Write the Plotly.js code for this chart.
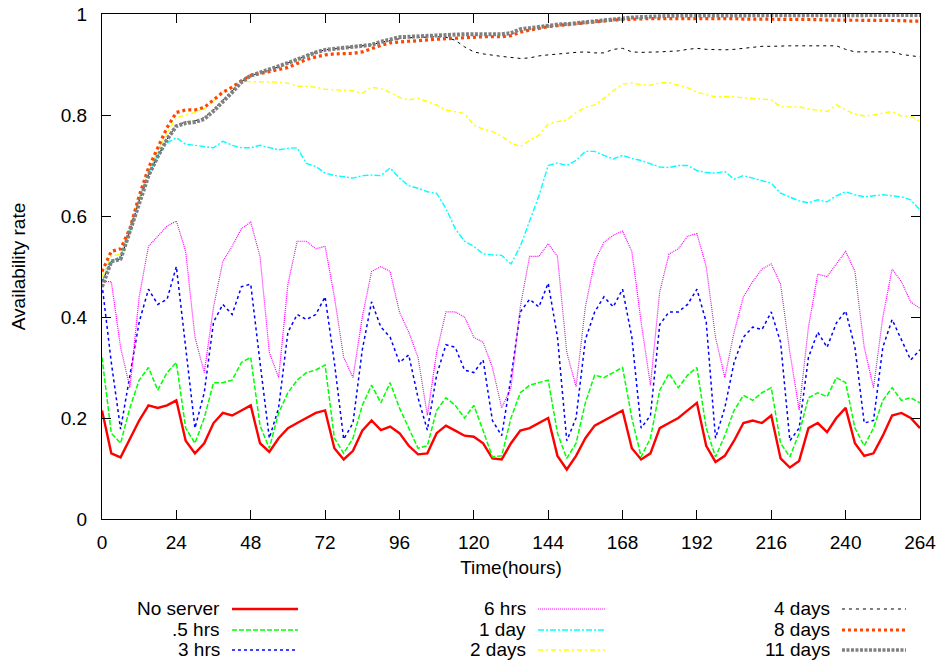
<!DOCTYPE html>
<html>
<head>
<meta charset="utf-8">
<script src="https://cdn.plot.ly/plotly-3.0.1.min.js"></script>
<style>
  html, body { margin: 0; padding: 0; background: #ffffff; }
  #chart { width: 941px; height: 660px; }
</style>
</head>
<body>
<div id="chart"></div>
<script>
// Sampling instants (hours), every 3 h over the 11-day run
const hours = [
  0, 3, 6, 9, 12, 15, 18, 21,
  24, 27, 30, 33, 36, 39, 42, 45,
  48, 51, 54, 57, 60, 63, 66, 69,
  72, 75, 78, 81, 84, 87, 90, 93,
  96, 99, 102, 105, 108, 111, 114, 117,
  120, 123, 126, 129, 132, 135, 138, 141,
  144, 147, 150, 153, 156, 159, 162, 165,
  168, 171, 174, 177, 180, 183, 186, 189,
  192, 195, 198, 201, 204, 207, 210, 213,
  216, 219, 222, 225, 228, 231, 234, 237,
  240, 243, 246, 249, 252, 255, 258, 261,
  264
];

const noServer = [
  0.215,0.130,0.122,0.160,0.195,0.225,0.220,0.225,
  0.235,0.155,0.130,0.150,0.190,0.210,0.205,0.215,
  0.225,0.150,0.133,0.160,0.180,0.190,0.200,0.210,
  0.215,0.140,0.118,0.135,0.175,0.195,0.176,0.183,
  0.170,0.145,0.128,0.130,0.170,0.185,0.175,0.165,
  0.163,0.150,0.120,0.118,0.150,0.175,0.180,0.190,
  0.200,0.125,0.098,0.125,0.160,0.185,0.195,0.205,
  0.215,0.140,0.118,0.130,0.180,0.190,0.200,0.215,
  0.230,0.145,0.113,0.125,0.155,0.190,0.195,0.190,
  0.205,0.120,0.102,0.115,0.180,0.190,0.172,0.200,
  0.220,0.150,0.125,0.130,0.165,0.205,0.210,0.200,
  0.180
];

const halfHour = [
  0.320,0.170,0.150,0.220,0.275,0.300,0.255,0.290,
  0.310,0.180,0.150,0.200,0.270,0.270,0.275,0.310,
  0.320,0.185,0.140,0.210,0.250,0.275,0.290,0.295,
  0.305,0.160,0.130,0.160,0.225,0.265,0.230,0.270,
  0.220,0.180,0.140,0.145,0.215,0.240,0.225,0.200,
  0.225,0.175,0.123,0.125,0.200,0.250,0.265,0.270,
  0.275,0.170,0.120,0.150,0.230,0.285,0.280,0.290,
  0.300,0.200,0.123,0.160,0.255,0.288,0.260,0.285,
  0.300,0.180,0.123,0.165,0.215,0.245,0.235,0.250,
  0.260,0.150,0.123,0.170,0.240,0.250,0.242,0.280,
  0.270,0.180,0.145,0.180,0.235,0.260,0.235,0.240,
  0.230
];

const threeHrs = [
  0.465,0.310,0.178,0.280,0.390,0.455,0.425,0.435,
  0.500,0.340,0.180,0.250,0.390,0.425,0.405,0.460,
  0.465,0.310,0.160,0.220,0.370,0.405,0.395,0.405,
  0.440,0.310,0.158,0.190,0.335,0.430,0.380,0.360,
  0.310,0.325,0.240,0.176,0.285,0.345,0.340,0.295,
  0.290,0.315,0.195,0.165,0.280,0.410,0.435,0.420,
  0.467,0.360,0.155,0.200,0.355,0.410,0.440,0.420,
  0.455,0.360,0.180,0.205,0.385,0.410,0.410,0.425,
  0.455,0.390,0.160,0.220,0.310,0.360,0.380,0.375,
  0.410,0.350,0.155,0.180,0.320,0.370,0.340,0.388,
  0.412,0.340,0.190,0.195,0.340,0.395,0.355,0.315,
  0.335
];

const sixHrs = [
  0.470,0.470,0.340,0.260,0.440,0.540,0.560,0.580,
  0.590,0.530,0.360,0.290,0.420,0.510,0.540,0.575,
  0.588,0.520,0.330,0.280,0.465,0.550,0.550,0.535,
  0.540,0.440,0.320,0.280,0.400,0.490,0.500,0.490,
  0.410,0.370,0.320,0.205,0.330,0.410,0.410,0.400,
  0.360,0.350,0.300,0.220,0.260,0.420,0.520,0.520,
  0.545,0.520,0.330,0.262,0.420,0.510,0.548,0.562,
  0.570,0.530,0.390,0.265,0.450,0.525,0.535,0.560,
  0.565,0.500,0.360,0.280,0.370,0.440,0.470,0.495,
  0.505,0.465,0.330,0.216,0.380,0.485,0.480,0.506,
  0.530,0.490,0.340,0.260,0.400,0.495,0.470,0.430,
  0.417
];

const oneDay = [
  0.470,0.510,0.520,0.570,0.635,0.685,0.720,0.745,
  0.755,0.742,0.740,0.738,0.735,0.748,0.740,0.735,
  0.735,0.740,0.736,0.731,0.734,0.735,0.704,0.698,
  0.685,0.680,0.678,0.675,0.680,0.681,0.680,0.695,
  0.675,0.660,0.655,0.648,0.645,0.615,0.575,0.550,
  0.540,0.525,0.523,0.522,0.505,0.540,0.590,0.640,
  0.700,0.705,0.700,0.710,0.728,0.728,0.720,0.713,
  0.720,0.714,0.710,0.704,0.697,0.696,0.700,0.700,
  0.690,0.686,0.685,0.688,0.673,0.680,0.675,0.671,
  0.665,0.645,0.638,0.630,0.626,0.632,0.628,0.640,
  0.648,0.642,0.638,0.640,0.642,0.640,0.638,0.632,
  0.612
];

const twoDays = [
  0.480,0.520,0.525,0.570,0.635,0.690,0.730,0.765,
  0.795,0.800,0.805,0.812,0.828,0.845,0.857,0.866,
  0.866,0.866,0.866,0.865,0.863,0.857,0.857,0.855,
  0.851,0.850,0.850,0.848,0.843,0.855,0.852,0.845,
  0.835,0.830,0.833,0.827,0.820,0.810,0.806,0.803,
  0.780,0.772,0.767,0.758,0.745,0.737,0.750,0.760,
  0.782,0.787,0.790,0.805,0.815,0.820,0.833,0.848,
  0.861,0.863,0.860,0.859,0.864,0.864,0.859,0.854,
  0.845,0.840,0.836,0.836,0.836,0.834,0.833,0.832,
  0.830,0.816,0.816,0.816,0.812,0.809,0.807,0.820,
  0.810,0.802,0.798,0.800,0.804,0.807,0.798,0.798,
  0.787
];

const fourDays = [
  0.470,0.510,0.515,0.570,0.630,0.680,0.718,0.752,
  0.780,0.786,0.788,0.795,0.810,0.828,0.847,0.866,
  0.878,0.884,0.890,0.895,0.903,0.910,0.918,0.924,
  0.929,0.931,0.933,0.935,0.937,0.939,0.944,0.948,
  0.951,0.953,0.954,0.955,0.955,0.954,0.948,0.935,
  0.925,0.921,0.918,0.916,0.914,0.912,0.913,0.917,
  0.919,0.921,0.922,0.924,0.925,0.923,0.923,0.930,
  0.932,0.925,0.924,0.924,0.925,0.926,0.927,0.930,
  0.932,0.930,0.929,0.929,0.930,0.932,0.934,0.936,
  0.936,0.937,0.937,0.937,0.937,0.937,0.937,0.937,
  0.930,0.925,0.925,0.925,0.925,0.925,0.920,0.918,
  0.915
];

const eightDays = [
  0.490,0.530,0.535,0.575,0.640,0.695,0.735,0.775,
  0.805,0.810,0.810,0.815,0.830,0.845,0.855,0.868,
  0.878,0.882,0.886,0.890,0.894,0.902,0.910,0.915,
  0.919,0.921,0.922,0.922,0.925,0.932,0.938,0.943,
  0.945,0.946,0.947,0.949,0.950,0.951,0.952,0.954,
  0.954,0.955,0.955,0.955,0.957,0.964,0.968,0.972,
  0.975,0.977,0.979,0.981,0.983,0.985,0.986,0.988,
  0.989,0.990,0.991,0.991,0.991,0.991,0.992,0.992,
  0.992,0.992,0.991,0.991,0.991,0.990,0.990,0.990,
  0.990,0.990,0.989,0.989,0.989,0.989,0.988,0.988,
  0.988,0.988,0.988,0.987,0.987,0.987,0.987,0.986,
  0.986
];

const elevenDays = [
  0.460,0.510,0.515,0.570,0.630,0.680,0.718,0.752,
  0.778,0.784,0.786,0.792,0.808,0.826,0.845,0.865,
  0.878,0.884,0.890,0.895,0.903,0.910,0.918,0.924,
  0.929,0.931,0.933,0.935,0.937,0.939,0.945,0.950,
  0.954,0.955,0.956,0.957,0.958,0.959,0.960,0.960,
  0.960,0.960,0.960,0.960,0.962,0.970,0.972,0.975,
  0.978,0.979,0.980,0.982,0.983,0.985,0.987,0.989,
  0.991,0.993,0.994,0.995,0.996,0.996,0.997,0.997,
  0.997,0.997,0.997,0.998,0.998,0.998,0.998,0.998,
  0.998,0.998,0.998,0.998,0.998,0.998,0.998,0.998,
  0.998,0.998,0.998,0.998,0.998,0.998,0.998,0.998,
  0.998
];

const seriesNames = ["No server", ".5 hrs", "3 hrs", "6 hrs", "1 day", "2 days", "4 days", "8 days", "11 days"];
const seriesValues = [noServer, halfHour, threeHrs, sixHrs, oneDay, twoDays, fourDays, eightDays, elevenDays];
const xTicks = [0, 24, 48, 72, 96, 120, 144, 168, 192, 216, 240, 264];
const yTicks = [0, 0.2, 0.4, 0.6, 0.8, 1];

// Line styles, gnuplot-like
const styles = [
  { color: "#ff0000", width: 2.4, dash: "solid" },
  { color: "#00ff00", width: 1.5, dash: "5px,2px" },
  { color: "#0000ff", width: 1.5, dash: "3px,3px" },
  { color: "#ff00ff", width: 1.2, dash: "1px,1px" },
  { color: "#00ffff", width: 1.4, dash: "6px,2px,2px,2px" },
  { color: "#ffff00", width: 1.4, dash: "5px,3px,2px,3px" },
  { color: "#000000", width: 1.0, dash: "3px,4px" },
  { color: "#ff4500", width: 3.2, dash: "3px,3px" },
  { color: "#808080", width: 4.0, dash: "3px,1.5px" }
];

const traces = seriesValues.map((vals, i) => ({
  type: "scatter",
  mode: "lines",
  name: seriesNames[i],
  x: hours,
  y: vals,
  line: { color: styles[i].color, width: styles[i].width, dash: styles[i].dash },
  showlegend: false,
  hoverinfo: "skip"
}));

// Key: three columns, label on the left of its line sample
const keyTextRight = [0.1467, 0.5208, 0.8924];
const keySample = [[0.1589, 0.2396], [0.5330, 0.6149], [0.9046, 0.9829]];
const keyRows = [-0.1782, -0.2198, -0.2594];

const textFont = { family: "Liberation Sans, Arial, sans-serif", size: 19, color: "#000000" };

const annotations = [];
const shapes = [];
seriesNames.forEach((name, i) => {
  const col = Math.floor(i / 3), row = i % 3;
  annotations.push({
    xref: "paper", yref: "paper",
    x: keyTextRight[col], y: keyRows[row],
    xanchor: "right", yanchor: "middle",
    text: name, showarrow: false,
    font: textFont
  });
  shapes.push({
    type: "line", xref: "paper", yref: "paper",
    x0: keySample[col][0], x1: keySample[col][1],
    y0: keyRows[row], y1: keyRows[row],
    line: { color: styles[i].color, width: Math.min(styles[i].width, 3.5), dash: styles[i].dash }
  });
});

const layout = {
  width: 941,
  height: 660,
  margin: { l: 102, r: 21, t: 14, b: 141 },
  paper_bgcolor: "#ffffff",
  plot_bgcolor: "#ffffff",
  font: textFont,
  showlegend: false,
  xaxis: {
    range: [0, 264],
    tickvals: xTicks,
    ticktext: xTicks.map(String),
    ticks: "inside",
    ticklen: 9,
    tickcolor: "#000000",
    ticklabelstandoff: 6,
    showline: true,
    linecolor: "#000000",
    linewidth: 1,
    mirror: "ticks",
    showgrid: false,
    zeroline: false,
    tickfont: textFont,
    title: { text: "Time(hours)", font: textFont, standoff: 8 }
  },
  yaxis: {
    range: [0, 1],
    tickvals: yTicks,
    ticktext: yTicks.map(String),
    ticks: "inside",
    ticklen: 9,
    tickcolor: "#000000",
    ticklabelstandoff: 10,
    showline: true,
    linecolor: "#000000",
    linewidth: 1,
    mirror: "ticks",
    showgrid: false,
    zeroline: false,
    tickfont: textFont,
    title: { text: "Availability rate", font: textFont, standoff: 30 }
  },
  annotations: annotations,
  shapes: shapes
};

Plotly.newPlot("chart", traces, layout, { staticPlot: true, displayModeBar: false });
</script>
</body>
</html>
